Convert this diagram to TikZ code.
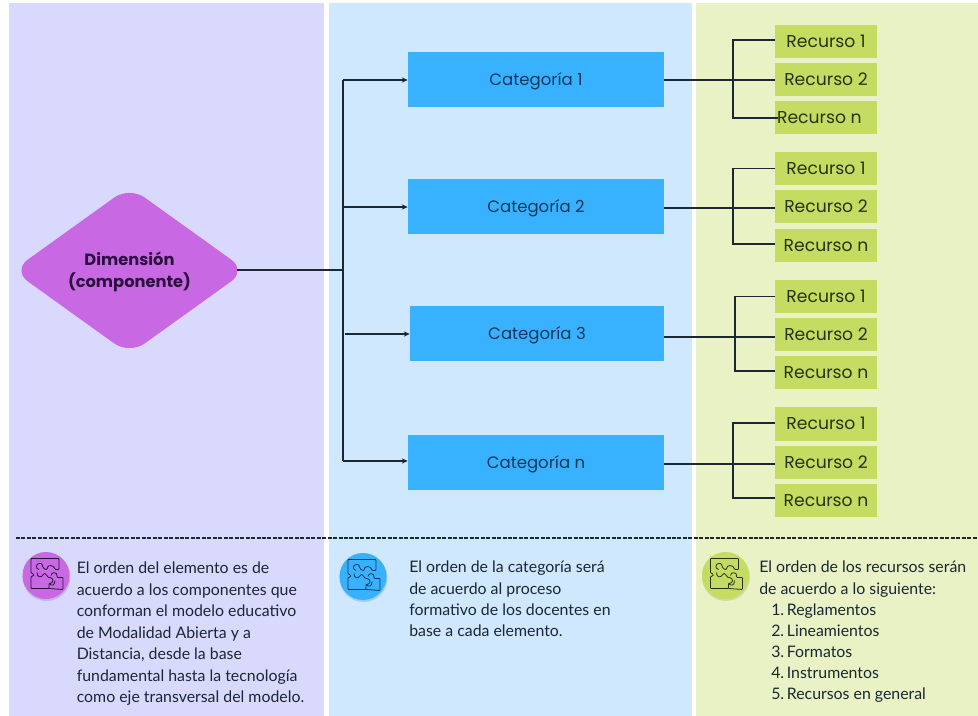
\documentclass[tikz,border=0pt]{standalone}
\usepackage{fontspec}
\setmainfont{Lato}
\newfontfamily\headfont{Poppins}
\usetikzlibrary{arrows.meta,shapes.geometric}
\definecolor{panelA}{HTML}{D9D9FD}
\definecolor{panelB}{HTML}{CFE8FE}
\definecolor{panelC}{HTML}{E8F2C4}
\definecolor{purp}{HTML}{C869E3}
\definecolor{blu}{HTML}{38B2FF}
\definecolor{grn}{HTML}{C5DC62}
\definecolor{ink}{HTML}{1B2733}
\definecolor{inkp}{HTML}{2A0F3F}
\definecolor{inkb}{HTML}{12375C}
\definecolor{inkg}{HTML}{263312}
\def\uu{0.75pt}
\tikzset{
  x=0.75pt,y=-0.75pt,
  catbox/.style={fill=blu,text=inkb,inner sep=0pt,minimum height=55*\uu,text height=10pt,text depth=1pt,font=\headfont\fontsize{12.4}{14}\selectfont},
  resbox/.style={fill=grn,text=inkg,inner sep=0pt,minimum width=102*\uu,minimum height=33*\uu,text height=10pt,text depth=1pt,font=\headfont\fontsize{12.9}{14}\selectfont},
  link/.style={draw=ink,line width=1.1pt},
  arrowlink/.style={link,-{Stealth[length=4.5pt,width=4pt]}},
  note/.style={anchor=north west,inner sep=0pt,align=left,text=ink,font=\fontsize{11.9}{16.1}\selectfont},
  noteb/.style={note,font=\fontsize{11.9}{15.8}\selectfont},
  icon/.style={circle,inner sep=0pt,minimum size=47*\uu},
  puzzleline/.style={line width=0.6pt,line join=round,rounded corners=0.6pt}
}
\newcommand{\puzzleart}[2]{%
\begin{scope}[shift={(#1)},puzzleline,draw=#2]
  \draw (-15,-3) -- (-15,-17) -- (13,-17) -- (13,-6) -- (9,-6)
     .. controls (8,-11) and (1,-11) .. (1,-6) .. controls (-4,-6) and (-3,-12) .. (-6,-12)
     .. controls (-10,-12) and (-11,-7) .. (-7,-6);
  \draw (-15,-3) .. controls (-11,-1) and (-12,1) .. (-15,1) -- (-15,13) -- (3,13)
     -- (3,8) .. controls (8,8) and (8,2) .. (3,2) .. controls (0,1) and (1,-2) .. (-2,-2)
     .. controls (-5,3) and (-9,2) .. (-9,-3);
  \draw (3,13) -- (17,14) -- (17,2) -- (11,2) .. controls (12,-4) and (5,-4) .. (5,0);
  \draw (3,8) .. controls (6,11) and (9,10) .. (9,5);
\end{scope}}
\begin{document}
\begin{tikzpicture}
\useasboundingbox (0,0) rectangle (978,716);
\fill[white] (0,0) rectangle (978,716);
\fill[panelA] (9,3) rectangle (324,716);
\fill[panelB] (329,3) rectangle (692,716);
\fill[panelC] (696,3) rectangle (978,716);

% main nodes
\node[diamond,fill=purp,rounded corners=14pt,inner sep=0pt,aspect=1.39,minimum width=234*\uu,minimum height=168*\uu] (dim) at (129.5,270.5) {};
\node[align=center,text=inkp,font=\headfont\bfseries\fontsize{12.2}{16}\selectfont] (dimtxt) at (129.5,272) {Dimensión\\(componente)};

\node[catbox,minimum width=256*\uu] (c1) at (536,79.5) {Categoría 1};
\node[catbox,minimum width=256*\uu] (c2) at (536,207) {Categoría 2};
\node[catbox,minimum width=254*\uu] (c3) at (537,334) {Categoría 3};
\node[catbox,minimum width=256*\uu] (c4) at (536,462) {Categoría n};

\node[resbox] (r11) at (826,41.5) {Recurso 1};
\node[resbox] (r12) at (826,80) {Recurso 2};
\node[resbox] (r13) at (826,118) {Recurso n\hspace*{10pt}};
\node[resbox] (r21) at (826,168.5) {Recurso 1};
\node[resbox] (r22) at (826,207) {Recurso 2};
\node[resbox] (r23) at (826,245.5) {Recurso n};
\node[resbox] (r31) at (826,296.5) {Recurso 1};
\node[resbox] (r32) at (826,334.5) {Recurso 2};
\node[resbox] (r33) at (826,373) {Recurso n};
\node[resbox] (r41) at (826,424) {Recurso 1};
\node[resbox] (r42) at (826,462) {Recurso 2};
\node[resbox] (r43) at (826,500.5) {Recurso n};

% trunk
\coordinate (tj) at (343,270);
\coordinate (tt) at (343,80);
\coordinate (tb) at (343,461);
\draw[link,shorten <=-7pt] (dim.east |- tj) -- (tj);
\draw[link] (tt) -- (tb);
\draw[arrowlink] (tt) -- (c1.west |- tt);
\draw[arrowlink] (343,207) -- (c2.west);
\draw[arrowlink] (345,334) -- (c3.west);
\draw[arrowlink] (tb) -- (c4.west |- tb);

% brackets
\coordinate (b1) at (733,80);
\coordinate (b2) at (733,208);
\coordinate (b3) at (735,337);
\coordinate (b4) at (733,464);
\draw[link] (c1.east |- b1) -- (r12.west |- b1);
\draw[link] (c2.east |- b2) -- (r22.west |- b2);
\draw[link] (c3.east |- b3) -- (r32.west |- b3);
\draw[link] (c4.east |- b4) -- (r42.west |- b4);
\draw[link] (r11.west) ++(0,-1.5) -| (b1) |- ([xshift=3*\uu]r13.west);
\draw[link] (r21.west) -| (b2) |- ([yshift=1.5*\uu]r23.west);
\draw[link] (r31.west) -| (b3) |- ([yshift=2*\uu]r33.west);
\draw[link] ([yshift=1*\uu]r41.west) -| (b4) |- ([yshift=2.5*\uu]r43.west);

% dashed rule
\coordinate (da) at (16,538);
\coordinate (db) at (978,538);
\draw[ink,line width=0.9pt,dash pattern=on 3pt off 1.1pt] (da) -- (db);

% icons
\fill[purp!70!black,opacity=.25] (46.5,577) circle (24);
\node[icon,fill=purp] (i1) at (46,575.5) {};
\puzzleart{46,575.5}{inkp}
\fill[blu!70!black,opacity=.25] (363.5,578) circle (24);
\node[icon,fill=blu] (i2) at (363,576.5) {};
\puzzleart{363,576.5}{inkb}
\fill[grn!70!black,opacity=.25] (726,577) circle (24);
\node[icon,fill=grn] (i3) at (725.5,575.5) {};
\puzzleart{725.5,575.5}{inkg}

% notes
\node[note] (n1) at (76.5,562) {El orden del elemento es de\\acuerdo a los componentes que\\conforman el modelo educativo\\de Modalidad Abierta y a\\Distancia, desde la base\\fundamental hasta la tecnología\\como eje transversal del modelo.};
\node[noteb] (n2) at (409,561) {El orden de la categoría será\\de acuerdo al proceso\\formativo de los docentes en\\base a cada elemento.};
\node[noteb] (n3) at (759,561) {El orden de los recursos serán\\de acuerdo a lo siguiente:\\\hspace*{9pt}1.\,Reglamentos\\\hspace*{9pt}2.\,Lineamientos\\\hspace*{9pt}3.\,Formatos\\\hspace*{9pt}4.\,Instrumentos\\\hspace*{9pt}5.\,Recursos en general};
\end{tikzpicture}
\end{document}
